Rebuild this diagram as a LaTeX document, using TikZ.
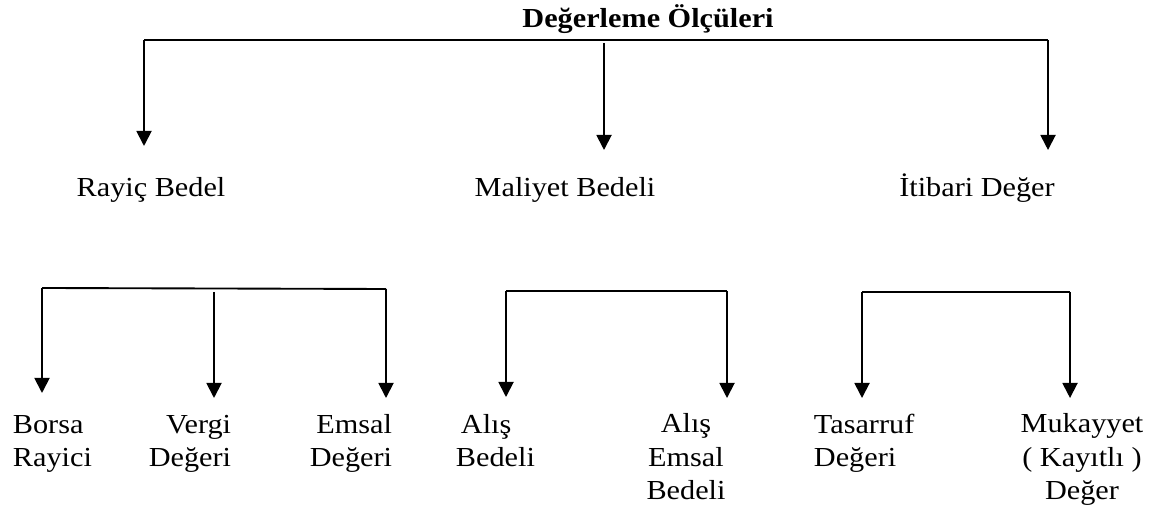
\documentclass[tikz,border=0pt]{standalone}
\usepackage{fontspec}
\setmainfont{Liberation Serif}[FakeStretch=1.1]
\usetikzlibrary{arrows.meta}

\tikzset{
  lbl/.style={inner sep=0pt, font=\fontsize{11}{13.4}\selectfont},
  arr/.style={-{Triangle[length=6pt,width=6pt]}},
}

\begin{document}
\begin{tikzpicture}[x=0.4pt,y=-0.4pt,line width=0.75pt]
  \useasboundingbox (0,0) rectangle (1150,510);

  % first level
  \node [lbl,font=\bfseries\fontsize{11}{13.4}\selectfont,anchor=base] (olcu) at (648,28) {Değerleme Ölçüleri};
  \coordinate (a0) at (144,40);
  \coordinate (a1) at (604,43);
  \coordinate (a2) at (1048,40);
  \coordinate (a0t) at (144,146);
  \coordinate (a1t) at (604,150);
  \coordinate (a2t) at (1048,150);
  \draw (a0) -- (a2);
  \draw [arr] (a0) -- (a0t);
  \draw [arr] (a1) -- (a1t);
  \draw [arr] (a2) -- (a2t);
  \node [lbl,anchor=base] (rayic) at (151,197) {Rayiç Bedel};
  \node [lbl,anchor=base] (maliyet) at (565,197) {Maliyet Bedeli};
  \node [lbl,anchor=base] (itibari) at (977,197) {İtibari Değer};

  % rayic bedel
  \coordinate (b0) at (42,288);
  \coordinate (b1) at (214,292);
  \coordinate (b2) at (386,289);
  \coordinate (b0t) at (42,393);
  \coordinate (b1t) at (214,398);
  \coordinate (b2t) at (386,398);
  \draw (b0) -- (b2);
  \draw [arr] (b0) -- (b0t);
  \draw [arr] (b1) -- (b1t);
  \draw [arr] (b2) -- (b2t);
  % base = last line
  \node [lbl,anchor=base west,align=left] (borsa) at (12,467) {Borsa\\Rayici};
  \node [lbl,anchor=base east,align=right] (vergi) at (232,467) {Vergi\\Değeri};
  \node [lbl,anchor=base east,align=right] (emsal) at (393,467) {Emsal\\Değeri};

  % maliyet bedeli
  \coordinate (c0) at (506,291);
  \coordinate (c1) at (727,291);
  \coordinate (c0t) at (506,397);
  \coordinate (c1t) at (727,398);
  \draw (c0) -- (c1);
  \draw [arr] (c0) -- (c0t);
  \draw [arr] (c1) -- (c1t);
  \node [lbl,anchor=base west,align=left] (alis) at (455,467) {\hspace{2pt}Alış\\Bedeli};
  \node [lbl,anchor=base,align=center] (alisemsal) at (686,500) {Alış\\Emsal\\Bedeli};

  % itibari deger
  \coordinate (d0) at (862,292);
  \coordinate (d1) at (1070,292);
  \coordinate (d0t) at (862,398);
  \coordinate (d1t) at (1070,398);
  \draw (d0) -- (d1);
  \draw [arr] (d0) -- (d0t);
  \draw [arr] (d1) -- (d1t);
  \node [lbl,anchor=base west,align=left] (tasarruf) at (813,467) {Tasarruf\\Değeri};
  \node [lbl,anchor=base,align=center] (mukayyet) at (1082,500) {Mukayyet\\( Kayıtlı )\\Değer};
\end{tikzpicture}
\end{document}
